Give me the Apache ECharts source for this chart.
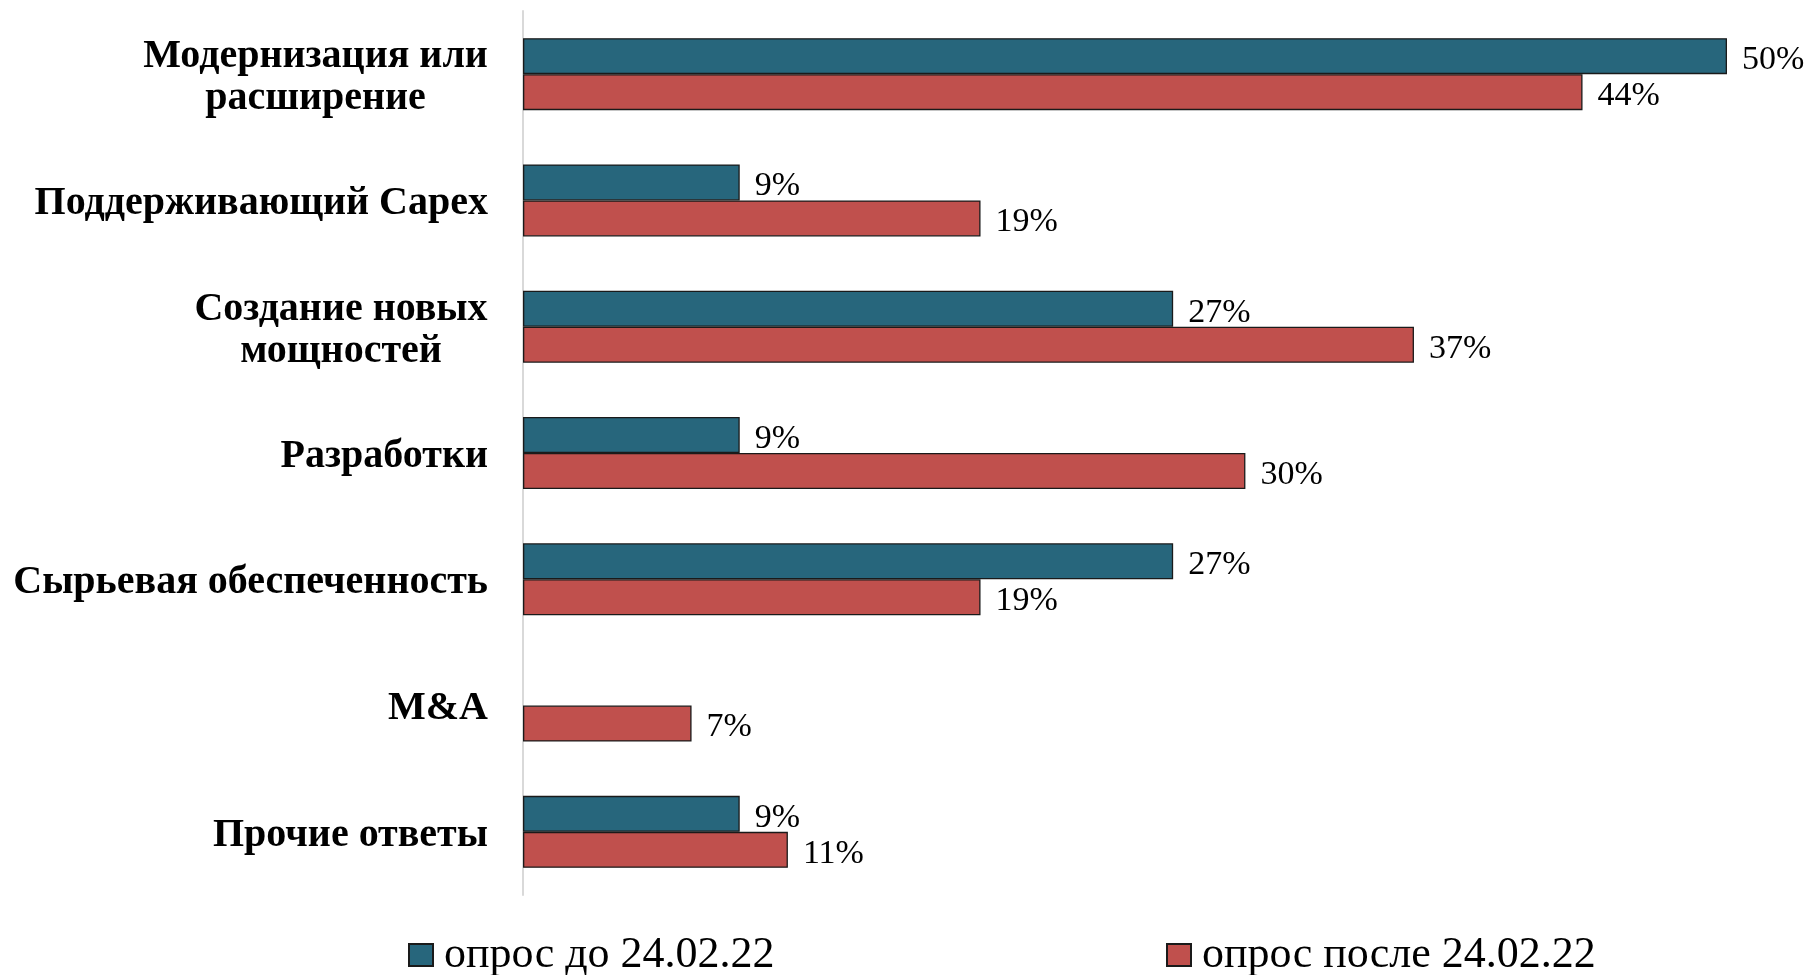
<!DOCTYPE html>
<html>
<head>
<meta charset="utf-8">
<script src="https://cdn.jsdelivr.net/npm/echarts@6/dist/echarts.min.js"></script>
<style>
html,body{margin:0;padding:0;background:#fff;}
#chart{width:1810px;height:975px;}
</style>
</head>
<body>
<div id="chart"></div>
<script>
const categories = [
  'Модернизация или\nрасширение',
  'Поддерживающий Capex',
  'Создание новых\nмощностей',
  'Разработки',
  'Сырьевая обеспеченность',
  'M&A',
  'Прочие ответы'
];
const seriesNames = ['опрос до 24.02.22', 'опрос после 24.02.22'];
const before = [50, 9, 27, 9, 27, null, 9];
const after = [44, 19, 37, 30, 19, 7, 11];

const FONT = '"Liberation Serif", "DejaVu Serif", serif';
const CAT_SIZE = 40;

const cvs = document.createElement('canvas').getContext('2d');
cvs.font = 'bold ' + CAT_SIZE + 'px ' + FONT;
const rich = {};
const catLabels = categories.map(function (c, i) {
  const lines = c.split('\n');
  if (lines.length === 1) return c;
  const w = Math.max.apply(null, lines.map(function (l) { return cvs.measureText(l).width; }));
  rich['k' + i] = { width: Math.ceil(w), align: 'center', fontSize: CAT_SIZE, fontWeight: 'bold', fontFamily: FONT, lineHeight: 42, color: '#000' };
  return lines.map(function (l) { return '{k' + i + '|' + l + '}'; }).join('\n');
});

const chart = echarts.init(document.getElementById('chart'), null, { renderer: 'canvas' });
const labelStyle = {
  show: true,
  position: 'right',
  distance: 15,
  offset: [0, 4],
  formatter: '{c}%',
  color: '#000',
  fontSize: 34,
  fontFamily: FONT
};
const legendText = { fontSize: 44, fontFamily: FONT, color: '#000', padding: [0, 0, 0, 6] };
chart.setOption({
  animation: false,
  backgroundColor: '#fff',
  grid: { left: 523, right: 83, top: 11, bottom: 80, containLabel: false },
  xAxis: {
    type: 'value', min: 0, max: 50,
    show: false,
    splitLine: { show: false }
  },
  yAxis: {
    type: 'category',
    data: catLabels,
    inverse: true,
    axisLine: { show: true, lineStyle: { color: '#d9d9d9', width: 2 } },
    axisTick: { show: false },
    axisLabel: {
      margin: 35,
      fontSize: CAT_SIZE,
      fontWeight: 'bold',
      fontFamily: FONT,
      color: '#000',
      lineHeight: 42,
      align: 'right',
      padding: [7, 0, 0, 0],
      rich: rich
    }
  },
  legend: [
    {
      data: [{ name: seriesNames[0], icon: 'rect' }], left: 408, top: 933, padding: 0,
      itemWidth: 24, itemHeight: 22, itemGap: 0,
      textStyle: legendText
    },
    {
      data: [{ name: seriesNames[1], icon: 'rect' }], left: 1166, top: 933, padding: 0,
      itemWidth: 24, itemHeight: 22, itemGap: 0,
      textStyle: legendText
    }
  ],
  series: [
    {
      name: seriesNames[0], type: 'bar', data: before,
      barWidth: 36, barGap: '0%',
      itemStyle: { color: '#27667c', borderColor: '#1a1a1a', borderWidth: 1.3 },
      label: labelStyle
    },
    {
      name: seriesNames[1], type: 'bar', data: after,
      barWidth: 36, barGap: '0%',
      itemStyle: { color: '#c0504d', borderColor: '#1a1a1a', borderWidth: 1.3 },
      label: labelStyle
    }
  ]
});
</script>
</body>
</html>
